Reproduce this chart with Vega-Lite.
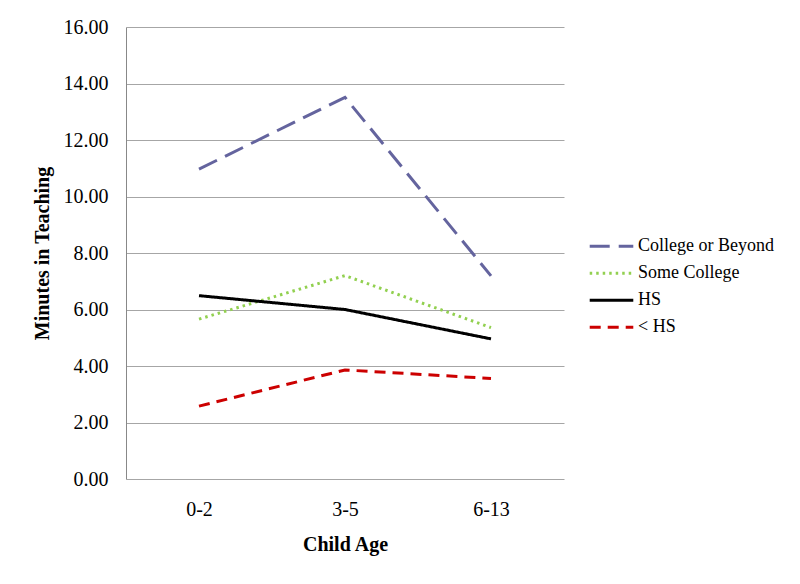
{
  "$schema": "https://vega.github.io/schema/vega-lite/v6.json",
  "autosize": "none",
  "width": 438,
  "height": 452,
  "padding": {"left": 126, "top": 27, "right": 236, "bottom": 105},
  "background": "white",
  "config": {
    "view": {"stroke": null},
    "font": "Liberation Serif"
  },
  "data": {
    "values": [
      {"age": "0-2", "group": "College or Beyond", "minutes": 10.97},
      {"age": "3-5", "group": "College or Beyond", "minutes": 13.51},
      {"age": "6-13", "group": "College or Beyond", "minutes": 7.19},
      {"age": "0-2", "group": "Some College", "minutes": 5.66},
      {"age": "3-5", "group": "Some College", "minutes": 7.2},
      {"age": "6-13", "group": "Some College", "minutes": 5.36},
      {"age": "0-2", "group": "HS", "minutes": 6.49},
      {"age": "3-5", "group": "HS", "minutes": 6.0},
      {"age": "6-13", "group": "HS", "minutes": 4.96},
      {"age": "0-2", "group": "< HS", "minutes": 2.58},
      {"age": "3-5", "group": "< HS", "minutes": 3.86},
      {"age": "6-13", "group": "< HS", "minutes": 3.56}
    ]
  },
  "mark": {"type": "line", "strokeWidth": 3},
  "encoding": {
    "x": {
      "field": "age",
      "type": "ordinal",
      "sort": ["0-2", "3-5", "6-13"],
      "scale": {"type": "point", "padding": 0.5},
      "title": "Child Age",
      "axis": {
        "labelAngle": 0,
        "labelFont": "Liberation Serif",
        "labelFontSize": 20,
        "labelColor": "#000000",
        "labelPadding": 20,
        "ticks": false,
        "tickSize": 0,
        "domain": false,
        "grid": false,
        "titleFont": "Liberation Serif",
        "titleFontSize": 20,
        "titleFontWeight": "bold",
        "titleColor": "#000000",
        "titlePadding": 15
      }
    },
    "y": {
      "field": "minutes",
      "type": "quantitative",
      "scale": {"domain": [0, 16]},
      "title": "Minutes in Teaching",
      "axis": {
        "values": [0, 2, 4, 6, 8, 10, 12, 14, 16],
        "format": ".2f",
        "labelFont": "Liberation Serif",
        "labelFontSize": 20,
        "labelColor": "#000000",
        "labelPadding": 18,
        "ticks": false,
        "tickSize": 0,
        "domain": true,
        "domainColor": "#888888",
        "domainWidth": 1,
        "grid": true,
        "gridColor": "#A6A6A6",
        "gridWidth": 1,
        "titleFont": "Liberation Serif",
        "titleFontSize": 20,
        "titleFontWeight": "bold",
        "titleColor": "#000000",
        "titlePadding": 11
      }
    },
    "color": {
      "field": "group",
      "type": "nominal",
      "sort": ["College or Beyond", "Some College", "HS", "< HS"],
      "scale": {
        "domain": ["College or Beyond", "Some College", "HS", "< HS"],
        "range": ["#64649E", "#92D050", "#000000", "#CC0000"]
      },
      "legend": {
        "title": null,
        "orient": "none",
        "legendX": 462,
        "legendY": 206,
        "labelFont": "Liberation Serif",
        "labelFontSize": 18,
        "labelColor": "#000000",
        "symbolType": "stroke",
        "symbolSize": 1900,
        "symbolStrokeWidth": 3,
        "clipHeight": 26.5,
        "rowPadding": 0,
        "labelOffset": 3,
        "labelLimit": 220
      }
    },
    "strokeDash": {
      "field": "group",
      "type": "nominal",
      "sort": ["College or Beyond", "Some College", "HS", "< HS"],
      "scale": {
        "domain": ["College or Beyond", "Some College", "HS", "< HS"],
        "range": [[20, 9], [2.5, 4], [1, 0], [11, 7]]
      }
    }
  }
}
